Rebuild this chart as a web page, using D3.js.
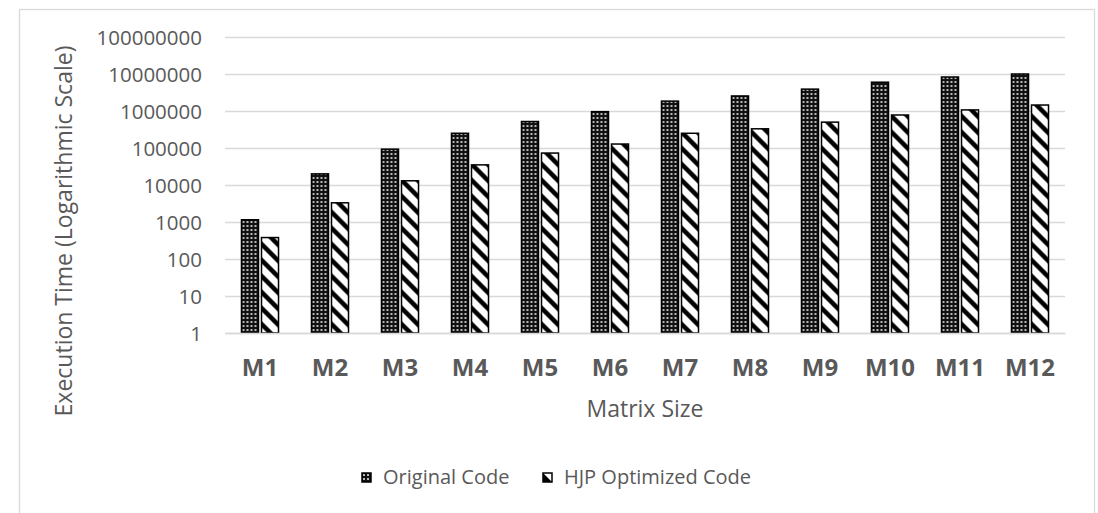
<!DOCTYPE html>
<html>
<head>
<meta charset="utf-8">
<script src="https://cdn.jsdelivr.net/npm/d3@7"></script>
<style>
  body { margin: 0; background: #fff; }
  text { font-family: "Open Sans", sans-serif; fill: #595959; }
</style>
</head>
<body>
<svg width="1098" height="513"></svg>
<script>
// data
const categories = ["M1", "M2", "M3", "M4", "M5", "M6", "M7", "M8", "M9", "M10", "M11", "M12"]
const originalCode = [1150, 20000, 93000, 250000, 520000, 960000, 1850000, 2550000, 3900000, 6000000, 8300000, 10000000]
const hjpCode = [380, 3300, 13000, 35000, 73000, 128000, 250000, 330000, 500000, 780000, 1070000, 1450000]
const seriesNames = ["Original Code", "HJP Optimized Code"]
const tickValues = [1, 10, 100, 1000, 10000, 100000, 1000000, 10000000, 100000000]

const svg = d3.select("svg")

// outer chart frame
svg.append("rect")
  .attr("x", 19.5).attr("y", 9.5)
  .attr("width", 1075).attr("height", 520)
  .attr("fill", "none").attr("stroke", "#d9d9d9").attr("stroke-width", 1.3)

// fill patterns like excel's
const defs = svg.append("defs")
const dots = defs.append("pattern")
  .attr("id", "dots").attr("patternUnits", "userSpaceOnUse")
  .attr("width", 4).attr("height", 4)
dots.append("rect").attr("width", 4).attr("height", 4).attr("fill", "#111")
dots.append("rect").attr("x", 1).attr("y", 1).attr("width", 2).attr("height", 2).attr("fill", "#b8b8b8")

const stripes = defs.append("pattern")
  .attr("id", "stripes").attr("patternUnits", "userSpaceOnUse")
  .attr("width", 16).attr("height", 16)
stripes.append("rect").attr("width", 16).attr("height", 16).attr("fill", "#fff")
stripes.append("path")
  .attr("d", "M-4,-4L20,20M-4,12L4,20M12,-4L20,4")
  .attr("stroke", "#000").attr("stroke-width", 4.5)

const fills = ["url(#dots)", "url(#stripes)"]

const x = d3.scaleBand()
  .domain(categories)
  .range([225, 1065])
  .paddingInner(0.471)
  .paddingOuter(0.2355)

const xInner = d3.scaleBand()
  .domain(seriesNames)
  .range([0, x.bandwidth()])
  .paddingInner(0.15)

const y = d3.scaleLog()
  .domain([1, 100000000])
  .range([333, 37])

// gridlines + tick labels
const yAxis = svg.append("g")
  .attr("transform", "translate(225,0)")
  .call(d3.axisLeft(y).tickValues(tickValues).tickFormat(d3.format("d")).tickSize(-840).tickPadding(23))
yAxis.select(".domain").remove()
yAxis.selectAll(".tick line").attr("stroke", "#d9d9d9").attr("stroke-width", 1.3)
yAxis.selectAll(".tick text")
  .attr("font-family", "Open Sans").attr("font-size", 20.5).attr("fill", "#595959")
  .attr("dy", "0.36em")

const rows = categories.map((c, i) => ({ cat: c, values: [originalCode[i], hjpCode[i]] }))

svg.append("g")
  .selectAll("g")
  .data(rows)
  .join("g")
  .attr("transform", d => `translate(${x(d.cat)},0)`)
  .selectAll("rect")
  .data(d => d.values.map((v, k) => ({ series: seriesNames[k], value: v, k })))
  .join("rect")
  .attr("x", d => xInner(d.series))
  .attr("y", d => y(d.value))
  .attr("width", xInner.bandwidth())
  .attr("height", d => y(1) - y(d.value))
  .attr("fill", d => fills[d.k])
  .attr("stroke", "#000")
  .attr("stroke-width", 1.5)

// category labels
const xAxis = svg.append("g")
  .attr("transform", "translate(0,333)")
  .call(d3.axisBottom(x).tickSize(0).tickPadding(0))
xAxis.select(".domain").attr("stroke", "#d9d9d9").attr("stroke-width", 1.3)
xAxis.selectAll(".tick text")
  .attr("font-family", "Open Sans").attr("font-size", 24).attr("font-weight", "bold")
  .attr("fill", "#595959").attr("y", 43).attr("dy", null)

// axis titles
svg.append("text")
  .attr("x", 645).attr("y", 417)
  .attr("text-anchor", "middle").attr("font-size", 23)
  .text("Matrix Size")

svg.append("text")
  .attr("transform", "translate(72,231) rotate(-90)")
  .attr("text-anchor", "middle").attr("font-size", 23)
  .text("Execution Time (Logarithmic Scale)")

// legend
const legendX = [362, 543]
const legend = svg.append("g")
  .selectAll("g")
  .data(seriesNames)
  .join("g")
  .attr("transform", (d, i) => `translate(${legendX[i]},473)`)
legend.append("rect")
  .attr("width", 9).attr("height", 9)
  .attr("fill", (d, i) => i === 0 ? fills[0] : "#fff")
  .attr("stroke", "#000").attr("stroke-width", 1.5)
// the striped key only shows one black corner at this size
legend.filter((d, i) => i === 1).append("path")
  .attr("d", "M0,0L9,9L0,9Z")
  .attr("fill", "#000")
legend.append("text")
  .attr("x", 21).attr("y", 11)
  .attr("font-size", 20)
  .text(d => d)
</script>
</body>
</html>
